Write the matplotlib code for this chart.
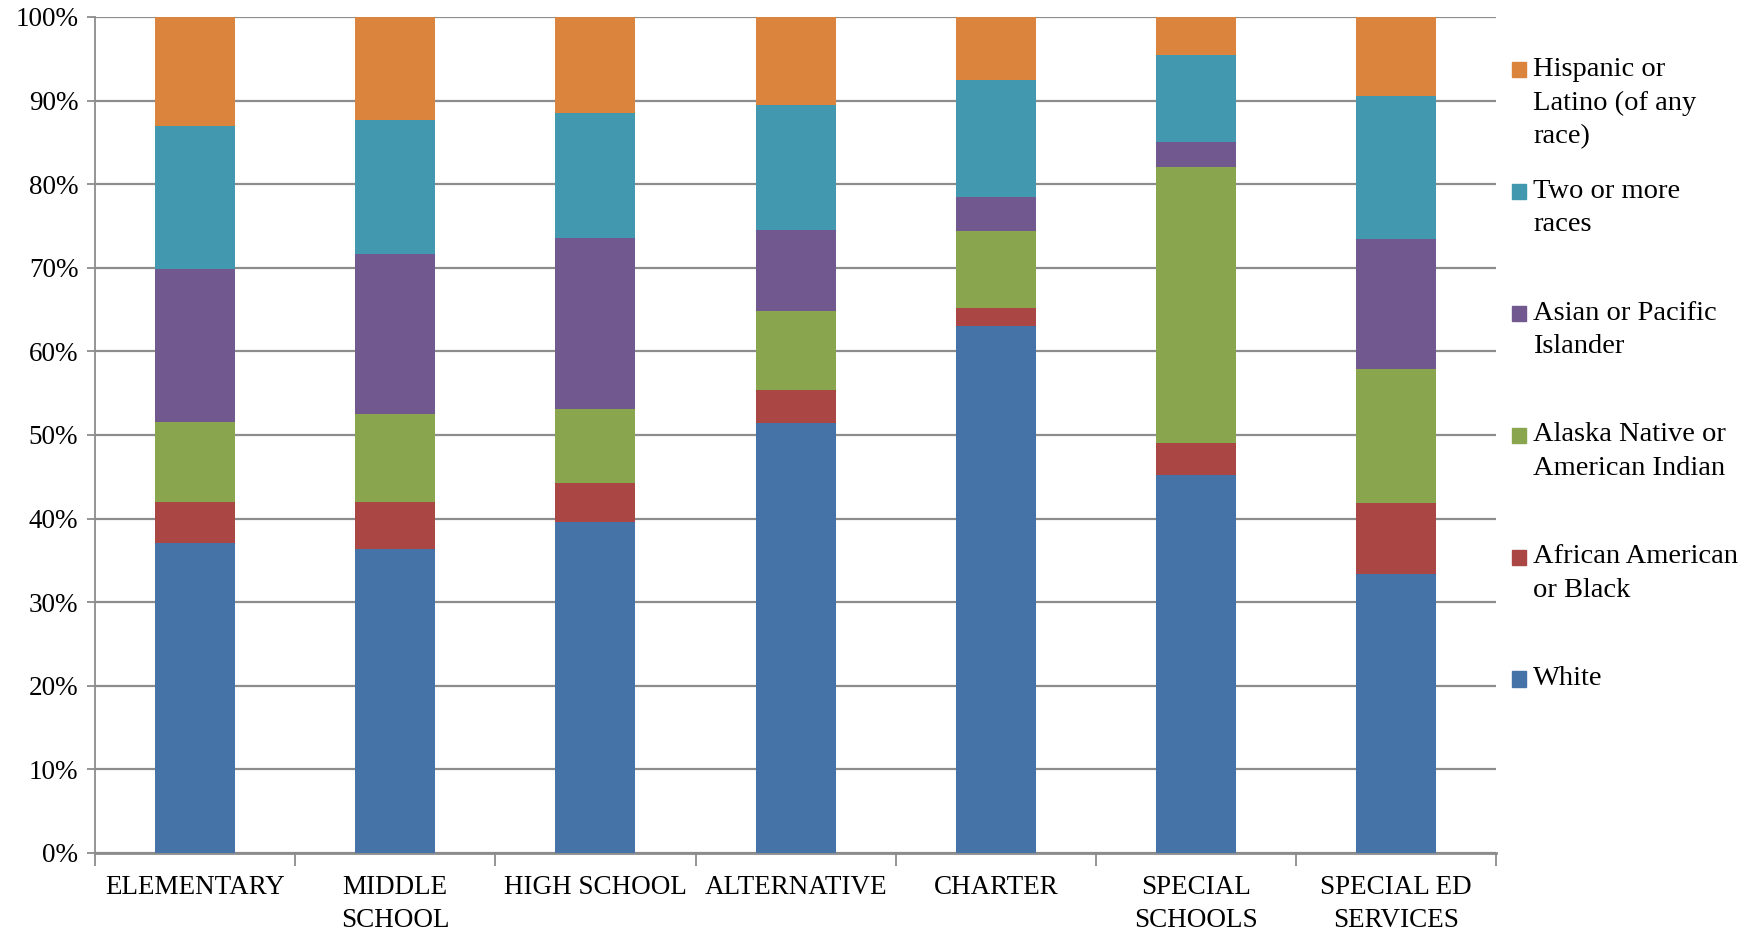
import matplotlib
matplotlib.use('Agg')
import matplotlib.pyplot as plt
from matplotlib.patches import Rectangle
import numpy as np

plt.rcParams['font.family'] = ['Liberation Serif', 'DejaVu Serif']

# school types on the x axis
categories = ['ELEMENTARY', 'MIDDLE\nSCHOOL', 'HIGH SCHOOL', 'ALTERNATIVE',
              'CHARTER', 'SPECIAL\nSCHOOLS', 'SPECIAL ED\nSERVICES']

# share of students in percent, bottom to top of each stack
white    = [37.1, 36.4, 39.6, 51.4, 63.0, 45.2, 33.4]
black    = [4.9, 5.6, 4.7, 4.0, 2.2, 3.8, 8.5]
alaska   = [9.6, 10.5, 8.8, 9.4, 9.2, 33.1, 16.0]
asian    = [18.3, 19.1, 20.4, 9.7, 4.0, 2.9, 15.5]
two      = [17.0, 16.1, 15.0, 15.0, 14.1, 10.4, 17.1]
hispanic = [13.1, 12.3, 11.5, 10.5, 7.5, 4.6, 9.5]

series = [white, black, alaska, asian, two, hispanic]
series_names = ['White', 'African American\nor Black', 'Alaska Native or\nAmerican Indian',
                'Asian or Pacific\nIslander', 'Two or more\nraces',
                'Hispanic or\nLatino (of any\nrace)']
colors = ['#4572A7', '#AA4643', '#89A54E', '#71588F', '#4198AF', '#DB843D']

grid_col = '#8c8c8c'

fig = plt.figure(figsize=(17.59, 9.39), dpi=100)
ax = fig.add_axes([0.054, 0.0916, 0.7966, 0.8904])

x = np.arange(len(categories))
bottom = np.zeros(len(categories))
for vals, col in zip(series, colors):
    ax.bar(x, vals, width=0.4, bottom=bottom, color=col, zorder=3)
    bottom += np.array(vals)

ax.set_xlim(-0.5, len(categories) - 0.5)
ax.set_ylim(0, 100)
ax.set_yticks(np.arange(0, 101, 10))
ax.set_yticklabels([f'{v}%' for v in range(0, 101, 10)], fontsize=19.5)
ax.yaxis.grid(True, color=grid_col, linewidth=1.6, zorder=0)

ax.set_xticks(x)
ax.set_xticklabels(categories, fontsize=19.5, linespacing=1.4, va='top')
ax.tick_params(axis='x', length=0, pad=16)
ax.set_xticks(np.arange(-0.5, len(categories), 1), minor=True)
ax.tick_params(axis='x', which='minor', length=9, color=grid_col, width=1.3)
ax.tick_params(axis='y', length=6, color=grid_col, width=1.3, pad=6)

for s in ['top', 'right']:
    ax.spines[s].set_visible(False)
ax.spines['left'].set_color(grid_col)
ax.spines['left'].set_linewidth(1.3)
ax.spines['bottom'].set_color(grid_col)
ax.spines['bottom'].set_linewidth(2)

# legend drawn by hand so the entries sit at an even spacing, top entry first
y0 = 0.926
step = 0.1298
for i, (name, col) in enumerate(zip(series_names[::-1], colors[::-1])):
    yc = y0 - i * step
    fig.add_artist(Rectangle((0.8595, yc - 0.0085), 0.0078, 0.0165,
                             transform=fig.transFigure, color=col))
    fig.text(0.8715, yc + 0.0135, name, fontsize=20.5, va='top', ha='left',
             linespacing=1.45)

fig.savefig('out.png', dpi=100)
